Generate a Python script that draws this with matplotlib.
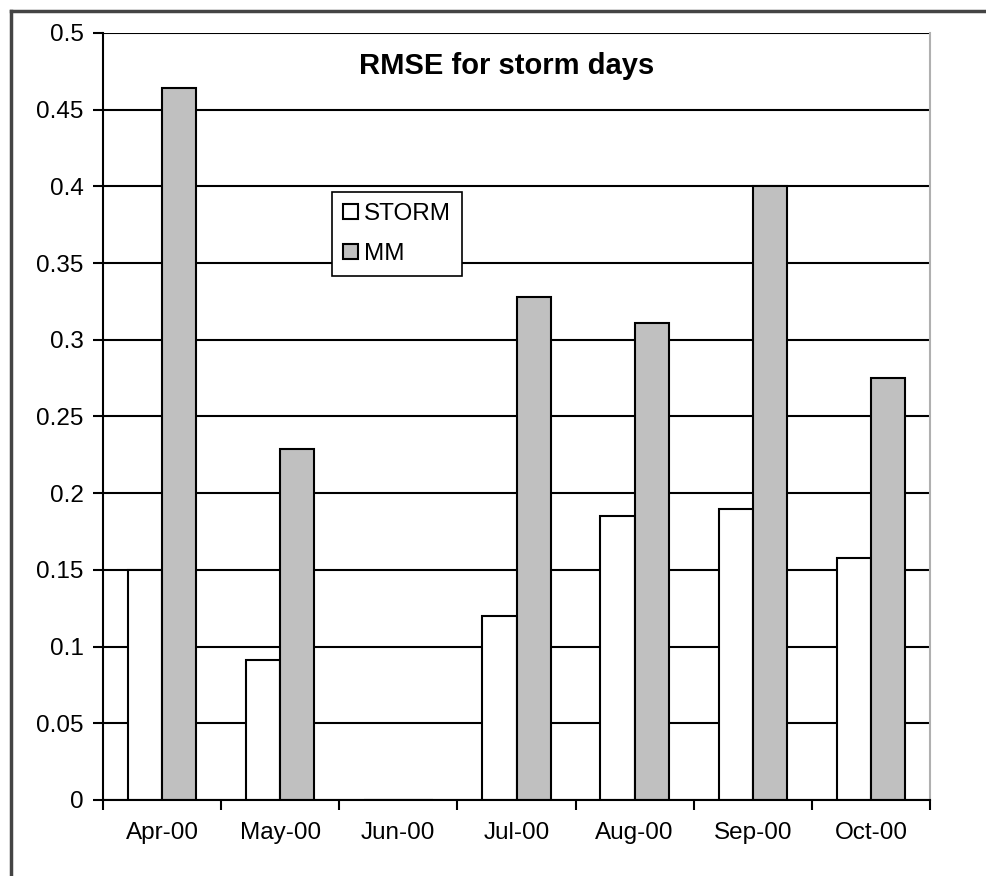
import numpy as np
import matplotlib
matplotlib.use('Agg')
import matplotlib.pyplot as plt
from matplotlib.lines import Line2D
from matplotlib.ticker import FuncFormatter

plt.rcParams['font.family'] = ['Liberation Sans', 'DejaVu Sans']

# dados
meses = ['Apr-00', 'May-00', 'Jun-00', 'Jul-00', 'Aug-00', 'Sep-00', 'Oct-00']
storm = [0.150, 0.091, 0.0, 0.120, 0.185, 0.190, 0.158]
mm = [0.464, 0.229, 0.0, 0.328, 0.311, 0.400, 0.275]

fig = plt.figure(figsize=(9.86, 8.76), dpi=100)
ax = fig.add_axes([103/986, 1-800/876, (930-103)/986, (800-33)/876])

x = np.arange(len(meses))
w = 0.29
ax.bar(x - w/2, storm, w, color='white', edgecolor='black', linewidth=1.5, label='STORM')
ax.bar(x + w/2, mm, w, color='#c0c0c0', edgecolor='black', linewidth=1.5, label='MM')

ax.set_xlim(-0.5, len(meses) - 0.5)
ax.set_ylim(0, 0.5)
ax.set_yticks(np.arange(0, 0.501, 0.05))
ax.yaxis.set_major_formatter(FuncFormatter(lambda v, p: f'{v:.2f}'.rstrip('0').rstrip('.') if v else '0'))
ax.yaxis.grid(True, color='black', linewidth=1.5)
ax.set_axisbelow(True)

# ticks nas divisoes das categorias
ax.set_xticks(x)
ax.set_xticklabels(meses)
ax.set_xticks(np.arange(-0.5, len(meses), 1), minor=True)
ax.tick_params(axis='x', which='major', length=0, pad=16, labelsize=17.5)
ax.tick_params(axis='x', which='minor', length=7, width=1.5, direction='out')
ax.tick_params(axis='y', length=7, width=1.5, pad=7, labelsize=17.5)

ax.spines['left'].set_linewidth(1.5)
ax.spines['bottom'].set_linewidth(1.5)
ax.spines['top'].set_visible(False)
ax.spines['right'].set_color('#b0b0b0')
ax.spines['right'].set_linewidth(1.5)

ax.text(0.488, 0.957, 'RMSE for storm days', transform=ax.transAxes,
        ha='center', va='center', fontsize=21, fontweight='bold')

leg = ax.legend(loc='upper left', bbox_to_anchor=(332/986, 1-192/876), bbox_transform=fig.transFigure,
                fancybox=False, edgecolor='black', framealpha=1, fontsize=17.5,
                handlelength=0.6, handleheight=0.6, handletextpad=0.25, labelspacing=0.75,
                borderpad=0.45, borderaxespad=0)
leg.get_frame().set_linewidth(1.2)

# moldura externa
fig.add_artist(Line2D([11/986, 1], [1-11/876, 1-11/876], color='#444444', linewidth=2.5))
fig.add_artist(Line2D([11/986, 11/986], [0, 1-11/876], color='#444444', linewidth=2.5))

fig.savefig('out.png', dpi=100)
